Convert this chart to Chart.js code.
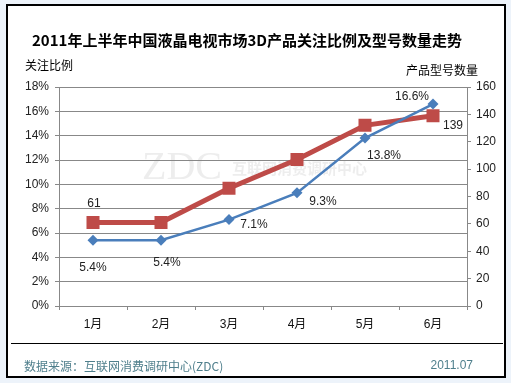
<!DOCTYPE html>
<html><head><meta charset="utf-8">
<script src="https://cdn.jsdelivr.net/npm/chart.js@4.4.1/dist/chart.umd.min.js"></script>
<style>html,body{margin:0;padding:0;background:#edf3fa;}canvas{display:block;}</style>
</head><body>
<canvas id="c" width="511" height="383"></canvas>
<script>
const categories = ['1月','2月','3月','4月','5月','6月'];
const attentionPct = [5.4, 5.4, 7.1, 9.3, 13.8, 16.6];
const modelCount = [61, 61, 86, 107, 132, 139];
const leftTicks = [0,2,4,6,8,10,12,14,16,18];
const rightTicks = [0,20,40,60,80,100,120,140,160];
const titleText = '2011年上半年中国液晶电视市场3D产品关注比例及型号数量走势';
const leftTitle = '关注比例';
const rightTitle = '产品型号数量';
const sourceText = '数据来源：互联网消费调研中心(ZDC)';
const dateText = '2011.07';

const FONT = '"Liberation Sans", Arial, "Noto Sans CJK SC", sans-serif';
const BLUE = '#4a7ebb', RED = '#be4b48';

const framePlugin = {
  id: 'frame',
  beforeDraw(chart) {
    const ctx = chart.ctx;
    ctx.save();
    ctx.fillStyle = '#edf3fa';
    ctx.fillRect(0, 0, 511, 383);
    ctx.fillStyle = '#ffffff';
    ctx.fillRect(6, 4, 500, 374);
    ctx.strokeStyle = '#000';
    ctx.lineWidth = 2;
    ctx.strokeRect(7, 5, 498, 372);
    // watermark
    ctx.fillStyle = 'rgba(190,190,190,0.28)';
    ctx.font = '40px "Liberation Serif", serif';
    ctx.textBaseline = 'middle';
    ctx.fillText('ZDC', 142, 168);
    ctx.font = 'bold 15px "Noto Sans CJK SC", sans-serif';
    ctx.fillText('互联网消费调研中心', 232, 168);
    ctx.restore();
  },
  afterDraw(chart) {
    const ctx = chart.ctx;
    ctx.save();
    ctx.fillStyle = '#000';
    ctx.textBaseline = 'middle';
    ctx.textAlign = 'center';
    ctx.font = 'bold 15px "Noto Sans CJK SC", sans-serif';
    ctx.fillText(titleText, 247, 40);
    ctx.font = '12px "Noto Sans CJK SC", sans-serif';
    ctx.textAlign = 'left';
    ctx.fillText(leftTitle, 25, 65);
    ctx.fillText(rightTitle, 406, 70);
    // footer line
    ctx.strokeStyle = '#000';
    ctx.lineWidth = 1;
    ctx.beginPath(); ctx.moveTo(11, 343.5); ctx.lineTo(503, 343.5); ctx.stroke();
    ctx.fillStyle = '#4f7f8c';
    ctx.font = '12px "Noto Sans CJK SC", sans-serif';
    ctx.fillText(sourceText, 24, 366);
    ctx.textAlign = 'right';
    ctx.font = '12px ' + FONT;
    ctx.fillText(dateText, 473, 366);
    // data labels
    const offs = chart.options.plugins.frame.offsets;
    ctx.fillStyle = '#222';
    ctx.textAlign = 'center';
    chart.data.datasets.forEach((ds, di) => {
      const meta = chart.getDatasetMeta(di);
      meta.data.forEach((el, i) => {
        const o = offs[di][i];
        if (!o) return;
        const txt = di === 0 ? ds.data[i].toFixed(1) + '%' : String(ds.data[i]);
        ctx.fillText(txt, el.x + o[0], el.y + o[1]);
      });
    });
    ctx.restore();
  }
};

new Chart(document.getElementById('c'), {
  type: 'line',
  data: {
    labels: categories,
    datasets: [
      { label: '关注比例', data: attentionPct, yAxisID: 'y', borderColor: BLUE, backgroundColor: BLUE,
        borderWidth: 2.5, pointStyle: 'rectRot', pointRadius: 5.5, pointBorderWidth: 0, tension: 0, order: 1 },
      { label: '产品型号数量', data: modelCount, yAxisID: 'y1', borderColor: RED, backgroundColor: RED,
        borderWidth: 5, pointStyle: 'rect', pointRadius: 9.2, pointBorderWidth: 0, tension: 0, order: 2 }
    ]
  },
  options: {
    responsive: false,
    animation: false,
    events: [],
    layout: { padding: { left: 0, right: 0, top: 87, bottom: 0 } },
    plugins: {
      legend: { display: false },
      tooltip: { enabled: false },
      frame: {
        offsets: [
          [[0, 27], [6, 22], [25, 5], [26, 9], [19, 18], [-21, -7]],
          [[1, -19], null, null, null, null, [20, 10]]
        ]
      }
    },
    scales: {
      x: {
        offset: true,
        grid: { offset: true, drawOnChartArea: false, drawTicks: true, tickLength: 4, color: '#888' },
        border: { color: '#888', width: 1 },
        ticks: { color: '#111', font: { size: 12, family: FONT }, padding: 7 },
        afterFit(s) { s.height = 77; }
      },
      y: {
        position: 'left', min: 0, max: 18,
        afterBuildTicks(s) { s.ticks = leftTicks.map(v => ({ value: v })); },
        grid: { color: '#888', tickLength: 4, lineWidth: 1 },
        border: { color: '#888', width: 1 },
        ticks: { color: '#222', font: { size: 12, family: FONT }, padding: 6, callback: v => v + '%' },
        afterFit(s) { s.width = 59; }
      },
      y1: {
        position: 'right', min: 0, max: 160,
        afterBuildTicks(s) { s.ticks = rightTicks.map(v => ({ value: v })); },
        grid: { drawOnChartArea: false, tickLength: 4, color: '#888' },
        border: { color: '#888', width: 1 },
        ticks: { color: '#222', font: { size: 12, family: FONT }, padding: 5 },
        afterFit(s) { s.width = 44; }
      }
    }
  },
  plugins: [framePlugin]
});
</script>
</body></html>
